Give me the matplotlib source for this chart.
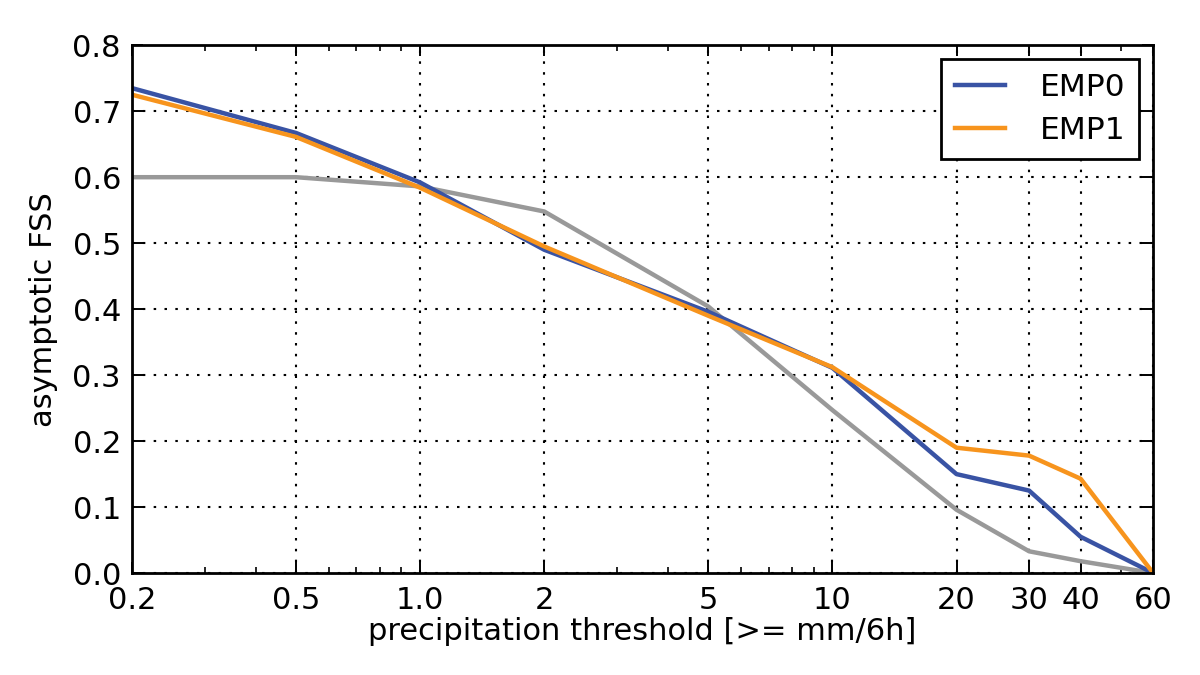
import matplotlib
matplotlib.use('Agg')
from matplotlib import pyplot as plt
from matplotlib.ticker import FixedLocator, FixedFormatter, LogLocator, NullFormatter

thresholds = [0.2, 0.5, 1.0, 2, 5, 10, 20, 30, 40, 60]
tick_labels = ['0.2', '0.5', '1.0', '2', '5', '10', '20', '30', '40', '60']
fss_emp0 = [0.735, 0.667, 0.592, 0.490, 0.396, 0.311, 0.150, 0.125, 0.055, 0.0]
fss_emp1 = [0.725, 0.661, 0.584, 0.495, 0.390, 0.312, 0.190, 0.178, 0.143, 0.0]
fss_ref = [0.600, 0.600, 0.586, 0.548, 0.404, 0.247, 0.096, 0.033, 0.018, 0.0]

plt.rcParams['font.family'] = ['DejaVu Sans']

fig = plt.figure(figsize=(12, 6.75), dpi=100)
ax = fig.add_axes([0.110, 0.151, 0.851, 0.782])

ax.plot(thresholds, fss_ref, color='#999999', lw=3.2)
ax.plot(thresholds, fss_emp0, color='#3953a4', lw=3.2, label='EMP0')
ax.plot(thresholds, fss_emp1, color='#f7941d', lw=3.2, label='EMP1')

ax.set_xscale('log')
ax.set_xlim(0.2, 60)
ax.set_ylim(0, 0.8)
ax.xaxis.set_major_locator(FixedLocator(thresholds))
ax.xaxis.set_major_formatter(FixedFormatter(tick_labels))
ax.xaxis.set_minor_locator(LogLocator(base=10, subs=range(2, 10), numticks=20))
ax.xaxis.set_minor_formatter(NullFormatter())
ax.set_yticks([0.0, 0.1, 0.2, 0.3, 0.4, 0.5, 0.6, 0.7, 0.8])
ax.set_yticklabels(['0.0', '0.1', '0.2', '0.3', '0.4', '0.5', '0.6', '0.7', '0.8'])

ax.tick_params(which='both', direction='in', top=True, right=True, labelsize=22)
ax.tick_params(axis='x', pad=9)
ax.tick_params(axis='y', pad=8)
ax.tick_params(which='major', length=8, width=1.4)
ax.tick_params(which='minor', length=4, width=1.2)
ax.grid(True, which='major', color='black', linestyle=(0, (1.2, 4)), linewidth=1.5)
for spine in ax.spines.values():
    spine.set_linewidth(2)

ax.set_xlabel('precipitation threshold [>= mm/6h]', fontsize=22, labelpad=2)
ax.set_ylabel('asymptotic FSS', fontsize=22, labelpad=10)

leg = ax.legend(loc='upper right', fontsize=22.5, handlelength=1.6,
                fancybox=False, borderpad=0.45, labelspacing=0.45, handletextpad=1.1,
                borderaxespad=0.45)
leg.get_frame().set_edgecolor('black')
leg.get_frame().set_linewidth(2)
leg.get_frame().set_alpha(1)

fig.savefig('out.png', dpi=100)
